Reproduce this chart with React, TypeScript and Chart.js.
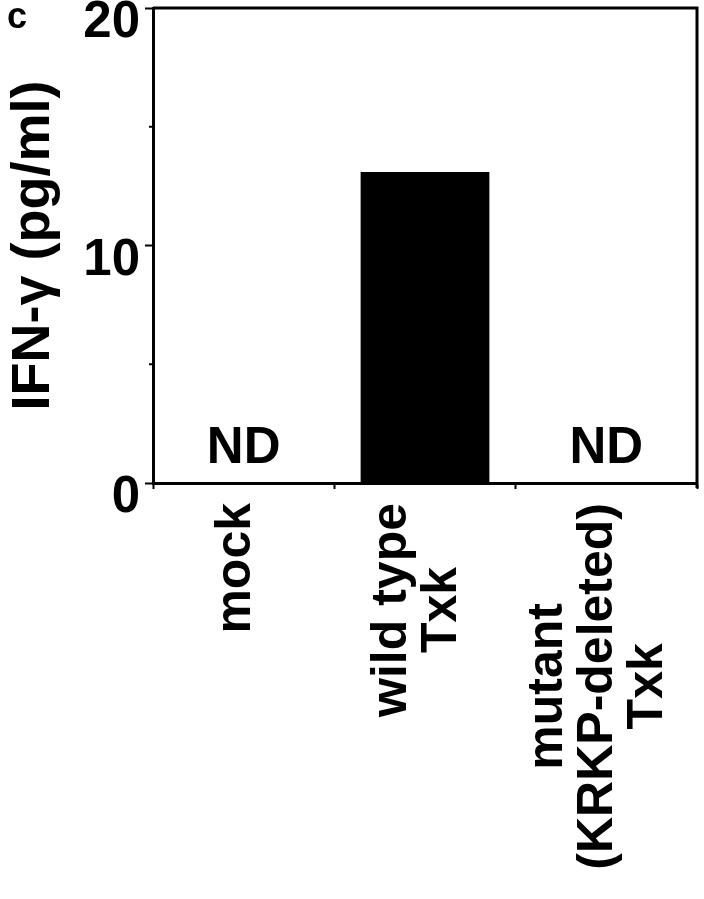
import React, { useEffect, useRef } from 'react';
import { Chart, registerables } from 'chart.js';

Chart.register(...registerables);

// ---- data ----
const categories: (string | string[])[] = [
  'mock',
  ['wild type', 'Txk'],
  ['mutant', '(KRKP-deleted)', 'Txk'],
];
const ifnValues: (number | null)[] = [null, 13.1, null]; // null = not detected
const ndLabel = 'ND';
const yTitle = 'IFN-γ (pg/ml)';
const yMin = 0;
const yMax = 20;
const yMajorStep = 10;
const yMinorTicks = [5, 15];
const panelLetter = 'c';

const FONT = '"Liberation Sans", Arial, Helvetica, sans-serif';

const decorPlugin = {
  id: 'decor',
  afterDraw(chart: any) {
    const { ctx, chartArea: ca, scales } = chart;
    const xs = scales.x;
    const ys = scales.y;
    ctx.save();
    ctx.strokeStyle = '#000';
    ctx.fillStyle = '#000';
    // top and right frame
    ctx.lineWidth = 3;
    ctx.beginPath();
    ctx.moveTo(ca.left, ca.top);
    ctx.lineTo(ca.right, ca.top);
    ctx.lineTo(ca.right, ca.bottom + 5);
    ctx.stroke();
    // minor y ticks
    ctx.lineWidth = 2;
    yMinorTicks.forEach((v) => {
      const py = ys.getPixelForValue(v);
      ctx.beginPath();
      ctx.moveTo(ca.left - 4, py);
      ctx.lineTo(ca.left, py);
      ctx.stroke();
    });
    // ND labels
    ctx.font = `bold 51px ${FONT}`;
    ctx.textAlign = 'center';
    ctx.textBaseline = 'alphabetic';
    ifnValues.forEach((v, i) => {
      if (v == null) ctx.fillText(ndLabel, xs.getPixelForValue(i), ca.bottom - 20);
    });
    // x category labels (rotated, centered lines)
    ctx.font = `bold 50px ${FONT}`;
    categories.forEach((c, i) => {
      const lines = Array.isArray(c) ? c : [c];
      const maxW = Math.max(...lines.map((l) => ctx.measureText(l).width));
      const cx = xs.getPixelForValue(i);
      const midY = ca.bottom + 20 + maxW / 2;
      lines.forEach((l, k) => {
        const bx = cx + 6 + (k - (lines.length - 1) / 2) * 50;
        ctx.save();
        ctx.translate(bx, midY);
        ctx.rotate(-Math.PI / 2);
        ctx.textAlign = 'center';
        ctx.fillText(l, 0, 0);
        ctx.restore();
      });
    });
    // panel letter
    ctx.font = `bold 36px ${FONT}`;
    ctx.textAlign = 'left';
    ctx.fillText(panelLetter, 7, 28);
    ctx.restore();
  },
};

export default function App() {
  const ref = useRef<HTMLCanvasElement | null>(null);
  useEffect(() => {
    if (!ref.current) return;
    const chart = new Chart(ref.current, {
      type: 'bar',
      data: {
        labels: categories as any,
        datasets: [
          {
            data: ifnValues as any,
            backgroundColor: '#000',
            borderWidth: 0,
            barPercentage: 0.71,
            categoryPercentage: 1,
          },
        ],
      },
      options: {
        responsive: false,
        animation: false,
        devicePixelRatio: 1,
        layout: { padding: { top: 8, right: 7, left: 0, bottom: 0 } },
        plugins: { legend: { display: false }, tooltip: { enabled: false } },
        scales: {
          x: {
            grid: { drawOnChartArea: false, tickLength: 6, tickWidth: 2, tickColor: '#000', offset: true },
            border: { color: '#000', width: 3 },
            ticks: { display: false },
            afterFit: (s: any) => {
              s.height = 416;
              s.paddingLeft = 0;
              s.paddingRight = 0;
            },
          },
          y: {
            min: yMin,
            max: yMax,
            ticks: {
              stepSize: yMajorStep,
              color: '#000',
              font: { family: FONT, size: 51, weight: 'bold' },
              padding: 5,
              labelOffset: 15,
            },
            grid: { drawOnChartArea: false, tickLength: 8, tickWidth: 2, tickColor: '#000' },
            border: { color: '#000', width: 3 },
            title: {
              display: true,
              text: yTitle,
              color: '#000',
              font: { family: FONT, size: 54, weight: 'bold' },
              padding: { top: 2, bottom: 0 },
            },
            afterFit: (s: any) => {
              s.width = 153;
              s.paddingTop = 0;
              s.paddingBottom = 0;
            },
          },
        },
      } as any,
      plugins: [decorPlugin],
    });
    return () => chart.destroy();
  }, []);
  return (
    <div style={{ position: 'fixed', left: 0, top: 0, width: 704, height: 899, background: '#fff' }}>
      <canvas ref={ref} width={704} height={899} style={{ display: 'block' }} />
    </div>
  );
}
